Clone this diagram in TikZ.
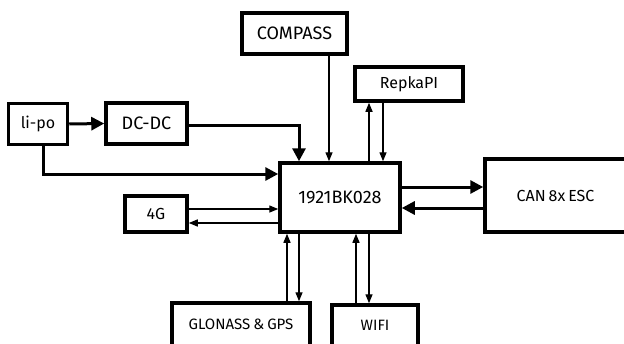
\documentclass[tikz,border=0pt]{standalone}
\usepackage{fontspec}
\setmainfont{Fira Sans}
\usetikzlibrary{arrows.meta}
\newcommand{\fsz}[1]{\fontsize{#1}{#1}\selectfont}
\tikzset{
  box/.style={draw, line width=3.5pt, rectangle, inner sep=0pt},
  bigarrow/.style={line width=3pt, -{Triangle[length=13pt,width=13pt]}},
  smallarrow/.style={line width=1.4pt, -{Triangle[length=9pt,width=7pt]}}
}
\begin{document}
\begin{tikzpicture}[x=1pt,y=-1pt]
\useasboundingbox (0,0) rectangle (624,343);
\node[box, minimum width=59pt, minimum height=41pt, font=\fsz{16}] (lipo) at (38,124) {li-po};
\node[box, minimum width=81pt, minimum height=41pt, font=\fsz{18}] (dcdc) at (146.5,123.5) {DC-DC};
\node[box, minimum width=120pt, minimum height=69pt, font=\fsz{18}] (main) at (340,197.5) {1921BK028};
\node[box, minimum width=105pt, minimum height=41pt, font=\fsz{18}] (compass) at (294.5,33.5) {COMPASS};
\node[box, minimum width=108pt, minimum height=34pt, font=\fsz{16}] (repka) at (409,84) {RepkaPI};
\node[box, minimum width=62pt, minimum height=36pt, font=\fsz{16}] (g4) at (156,214) {4G};
\node[box, minimum width=138pt, minimum height=45pt, font=\fsz{15}] (glonass) at (241,325.5) {\raisebox{2pt}{GLONASS\hspace{3pt}\&\hspace{3pt}GPS}};
\node[box, minimum width=86pt, minimum height=43pt, font=\fsz{15}] (wifi) at (375,326.5) {\raisebox{2pt}{WIFI}};
\node[box, minimum width=155pt, minimum height=73pt, font=\fsz{16}] (can) at (562.5,195.5) {\hspace*{-14pt}CAN\hspace{3pt}8x\hspace{3pt}ESC};
% helper coordinates
\coordinate (xcomp) at (329,0);
\coordinate (xrup) at (369,0);
\coordinate (xrdn) at (383,0);
\coordinate (xgup) at (287,0);
\coordinate (xgdn) at (299,0);
\coordinate (xwup) at (356,0);
\coordinate (xwdn) at (369,0);
\coordinate (y4r) at (0,209);
\coordinate (y4l) at (0,223);
\coordinate (ycr) at (0,187);
\coordinate (ycl) at (0,208);
\coordinate (xdc) at (299,0);
\coordinate (xlp) at (43,0);
\coordinate (ylp) at (0,174);
% connectors
\draw[bigarrow] (lipo.east) -- (dcdc.west);
\draw[bigarrow] ([yshift=-2pt]dcdc.east) -| (xdc |- main.north);
\draw[bigarrow] (xlp |- lipo.south) |- (main.west |- ylp);
\draw[smallarrow] (xcomp |- compass.south) -- (xcomp |- main.north);
\draw[smallarrow] (xrup |- main.north) -- (xrup |- repka.south);
\draw[smallarrow] (xrdn |- repka.south) -- (xrdn |- main.north);
\draw[smallarrow] (g4.east |- y4r) -- (main.west |- y4r);
\draw[smallarrow] (main.west |- y4l) -- (g4.east |- y4l);
\draw[smallarrow] (xgup |- glonass.north) -- (xgup |- main.south);
\draw[smallarrow] (xgdn |- main.south) -- (xgdn |- glonass.north);
\draw[smallarrow] (xwup |- wifi.north) -- (xwup |- main.south);
\draw[smallarrow] (xwdn |- main.south) -- (xwdn |- wifi.north);
\draw[bigarrow] (main.east |- ycr) -- (can.west |- ycr);
\draw[bigarrow] (can.west |- ycl) -- (main.east |- ycl);
\end{tikzpicture}
\end{document}
